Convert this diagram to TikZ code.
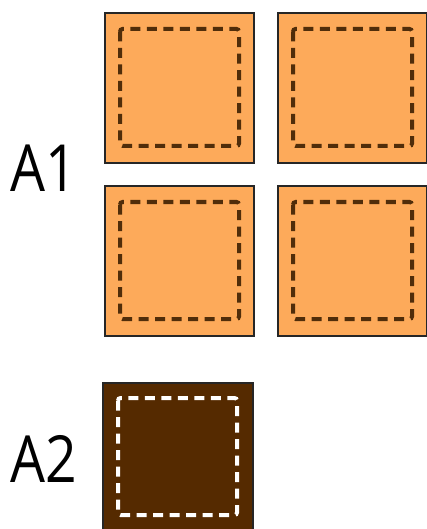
\documentclass[tikz,border=0pt]{standalone}
\usepackage{fontspec}
\setmainfont{Open Sans}
\definecolor{padfill}{RGB}{253,170,90}
\definecolor{padbrown}{RGB}{85,42,0}
\definecolor{dashbrown}{RGB}{80,45,10}
\tikzset{
  pad/.style={draw=black!85, line width=1.5pt, fill=padfill},
  darkpad/.style={draw=black!85, line width=1.5pt, fill=padbrown},
  inner/.style={draw=dashbrown, line width=4pt, dash pattern=on 10pt off 6.5pt, rounded corners=2.5pt},
  innerw/.style={draw=white, line width=4pt, dash pattern=on 10pt off 6.5pt, rounded corners=2.5pt},
  lbl/.style={font=\fontsize{65}{65}\selectfont, inner sep=0pt, anchor=base west, xscale=0.85}
}
\begin{document}
\begin{tikzpicture}[x=1pt,y=-1pt]
\useasboundingbox (0,0) rectangle (427,529);
\clip (0,0) rectangle (427,529);
% A1 pads
\foreach \x/\y/\n in {105/13/a, 278/13/b, 105/186/c, 278/186/d}{
  \path[pad] (\x,\y) rectangle ++(149,150);
  \path[inner] (\x+15,\y+16) rectangle ++(119,117);
}
% A2 pad
\path[darkpad] (103,383) rectangle (253,540);
\path[innerw] (118,398) rectangle (237,515);
\node[lbl] (A1) at (10,192) {A1};
\node[lbl] (A2) at (10,482) {A2};
\end{tikzpicture}
\end{document}
